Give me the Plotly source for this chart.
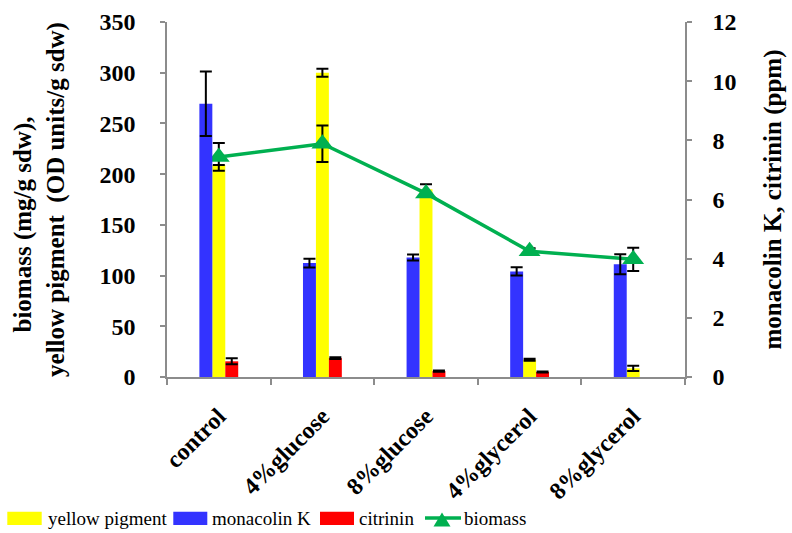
import plotly.graph_objects as go

categories = ["control", "4%glucose", "8%glucose", "4%glycerol", "8%glycerol"]
tick_labels = ["control", "4%glucose", "8%glucose", "4%glycerol", "8%glycerol"]

# left axis (mg/g sdw, OD units/g sdw)
yellow_pigment = [209, 300, 185, 17, 8.5]
yellow_err = [None, 4, 5, 1, 2.5]
biomass = [217, 230, 181, 124, 116]
biomass_err = [13.6, 18, None, 3, 11.5]

# right axis (ppm); no visible citrinin bar for 8%glycerol
monacolin_k = [9.24, 3.85, 4.04, 3.57, 3.81]
monacolin_err = [1.09, 0.15, 0.1, 0.14, 0.34]
citrinin = [0.53, 0.64, 0.2, 0.17, None]
citrinin_err = [0.1, 0.03, 0.02, 0.02, None]

legend_names = ["yellow pigment", "monacolin K", "citrinin", "biomass"]

FONT = "Liberation Serif, Times New Roman, serif"
GREY = "#8c8c8c"
YELLOW, BLUE, RED, GREEN = "#FFFF00", "#3333FF", "#FF0000", "#00B050"
bar_w = 0.125

# plot-area geometry (pixels) for placing the hand-drawn legend
W, H = 792, 533
ML, MR, MT, MB = 167, 107, 22, 156
PW, PH = W - ML - MR, H - MT - MB


def px(xp):
    return (xp - ML) / PW


def py(yp):
    return (H - MB - yp) / PH


err_style = dict(type="data", visible=True, color="black", thickness=2, width=6)

fig = go.Figure()
fig.add_trace(go.Bar(
    x=categories, y=yellow_pigment, name=legend_names[0],
    marker=dict(color=YELLOW, line=dict(width=0)),
    width=bar_w, offset=-bar_w / 2,
    error_y=dict(array=yellow_err, **err_style),
    yaxis="y", showlegend=False,
))
fig.add_trace(go.Bar(
    x=categories, y=monacolin_k, name=legend_names[1],
    marker=dict(color=BLUE, line=dict(width=0)),
    width=bar_w, offset=-1.5 * bar_w,
    error_y=dict(array=monacolin_err, **err_style),
    yaxis="y2", showlegend=False,
))
fig.add_trace(go.Bar(
    x=categories, y=citrinin, name=legend_names[2],
    marker=dict(color=RED, line=dict(width=0)),
    width=bar_w, offset=bar_w / 2,
    error_y=dict(array=citrinin_err, **err_style),
    yaxis="y2", showlegend=False,
))
fig.add_trace(go.Scatter(
    x=categories, y=biomass, name=legend_names[3], mode="lines+markers",
    line=dict(color=GREEN, width=3.5),
    marker=dict(symbol="triangle-up", size=19, color=GREEN),
    error_y=dict(array=biomass_err, **err_style),
    yaxis="y", showlegend=False,
))

# legend drawn as shapes + text below the chart
shapes = []
annotations = []
sw_y0, sw_y1, leg_y = 511.7, 525, 518.5
for (x0, x1, tx), color, name in zip(
    [(7.3, 41.7, 45.5), (173.3, 207.3, 210), (320, 354, 356.5)],
    [YELLOW, BLUE, RED], legend_names[:3]
):
    shapes.append(dict(type="rect", xref="paper", yref="paper",
                       x0=px(x0), x1=px(x1), y0=py(sw_y1), y1=py(sw_y0),
                       fillcolor=color, line=dict(width=0)))
    annotations.append(dict(xref="paper", yref="paper", x=px(tx), y=py(leg_y),
                            xanchor="left", yanchor="middle", showarrow=False,
                            text=name, font=dict(family=FONT, size=19, color="black")))
shapes.append(dict(type="line", xref="paper", yref="paper",
                   x0=px(425), x1=px(461), y0=py(518), y1=py(518),
                   line=dict(color=GREEN, width=3.5)))
tcx = 442
shapes.append(dict(type="path", xref="paper", yref="paper",
                   path=f"M {px(tcx - 8.5)},{py(526.5)} L {px(tcx + 8.5)},{py(526.5)} L {px(tcx)},{py(512.5)} Z",
                   fillcolor=GREEN, line=dict(width=0)))
annotations.append(dict(xref="paper", yref="paper", x=px(462), y=py(leg_y),
                        xanchor="left", yanchor="middle", showarrow=False,
                        text=legend_names[3], font=dict(family=FONT, size=19, color="black")))

nb = "\u00a0" * 8
fig.update_layout(
    width=W, height=H,
    margin=dict(l=ML, r=MR, t=MT, b=MB),
    paper_bgcolor="white", plot_bgcolor="white",
    barmode="overlay",
    font=dict(family=FONT, color="black"),
    showlegend=False,
    shapes=shapes,
    annotations=annotations,
    xaxis=dict(
        type="category", categoryorder="array", categoryarray=categories,
        tickvals=categories, ticktext=tick_labels,
        tickangle=-45, tickson="boundaries",
        ticks="outside", ticklen=6, tickcolor=GREY, tickwidth=1.5,
        showline=True, linecolor=GREY, linewidth=1.5,
        showgrid=False, zeroline=False, automargin=False,
        tickfont=dict(family=FONT, size=24, weight="bold", color="black"),
        ticklabelstandoff=14,
        range=[-0.5, 4.5],
    ),
    yaxis=dict(
        range=[0, 350], dtick=50, tick0=0,
        ticks="outside", ticklen=5, tickcolor=GREY, tickwidth=1.5,
        showline=True, linecolor=GREY, linewidth=1.5,
        showgrid=False, zeroline=False, automargin=False,
        tickfont=dict(family=FONT, size=24, weight="bold", color="black"),
        ticklabelstandoff=20,
        title=dict(
            text="biomass (mg/g sdw)," + nb + "<br>yellow pigment  (OD units/g sdw)",
            font=dict(family=FONT, size=25, weight="bold", color="black"),
            standoff=28,
        ),
    ),
    yaxis2=dict(
        range=[0, 12], dtick=2, tick0=0,
        overlaying="y", side="right", anchor="x",
        ticks="outside", ticklen=5, tickcolor=GREY, tickwidth=1.5,
        showline=True, linecolor=GREY, linewidth=1.5,
        showgrid=False, zeroline=False, automargin=False,
        tickfont=dict(family=FONT, size=24, weight="bold", color="black"),
        ticklabelstandoff=16,
        title=dict(
            text="monacolin K, citrinin (ppm)",
            font=dict(family=FONT, size=25, weight="bold", color="black"),
            standoff=28,
        ),
    ),
)

fig.write_html("out.html")
